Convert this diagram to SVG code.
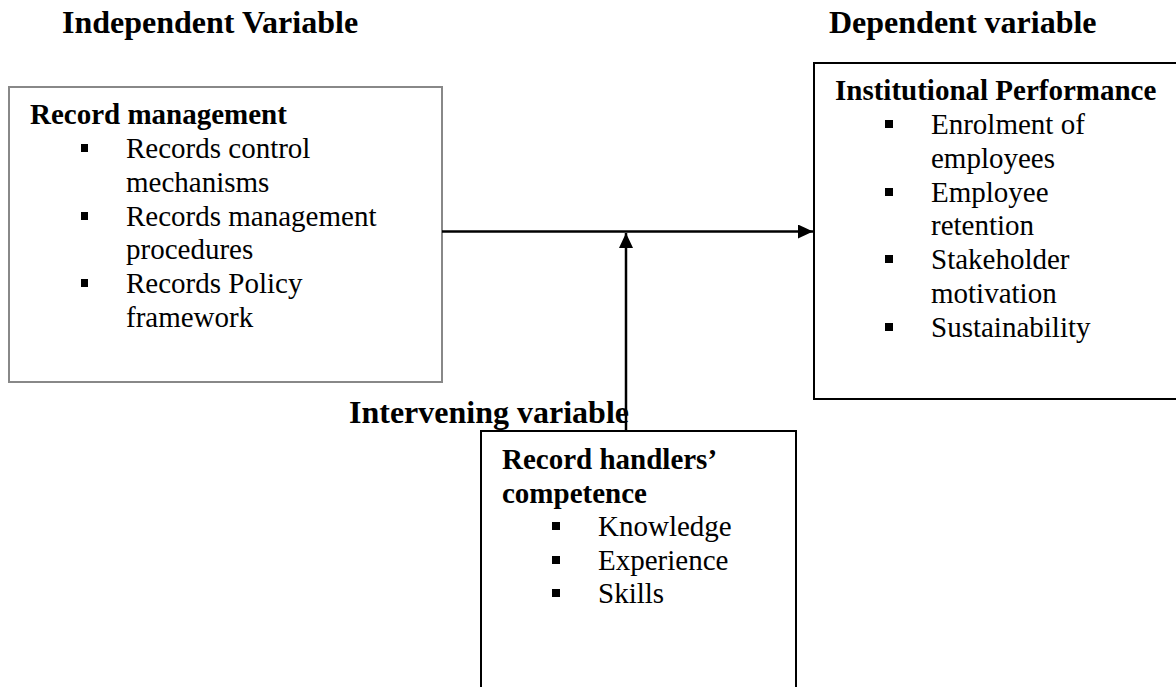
<svg xmlns="http://www.w3.org/2000/svg" width="1176" height="687" viewBox="0 0 1176 687">
<style>
text{font-family:"Liberation Serif","Times New Roman",serif;fill:#000}
.H{font-size:32px;font-weight:bold}
.h{font-size:29px;font-weight:bold}
.t{font-size:29px}
.b{fill:#000}
.box{fill:#fff;stroke:#000;stroke-width:2}
.gbox{fill:#fff;stroke:#888;stroke-width:2}
.ln{stroke:#000;stroke-width:2.5;fill:none}
</style>
<defs>
<marker id="ah" viewBox="0 0 15 14" refX="15" refY="7" markerWidth="15" markerHeight="14" markerUnits="userSpaceOnUse" orient="auto">
<path d="M0,0 L15,7 L0,14 Z" fill="#000"/>
</marker>
</defs>
<rect width="1176" height="687" fill="#fff"/>
<text class="H" x="62" y="33">Independent Variable</text>
<text class="H" x="829" y="33">Dependent variable</text>
<g id="independent">
<rect class="gbox" x="9" y="87" width="433" height="295"/>
<text class="h" x="30" y="124">Record management</text>
<rect class="b" x="81" y="144" width="7" height="8"/>
<text class="t" x="126" y="158">Records control</text>
<text class="t" x="126" y="192">mechanisms</text>
<rect class="b" x="81" y="212" width="7" height="8"/>
<text class="t" x="126" y="226">Records management</text>
<text class="t" x="126" y="259">procedures</text>
<rect class="b" x="81" y="279" width="7" height="8"/>
<text class="t" x="126" y="293">Records Policy</text>
<text class="t" x="126" y="327">framework</text>
</g>
<g id="dependent">
<rect class="box" x="814" y="63" width="380" height="336"/>
<text class="h" x="835" y="100">Institutional Performance</text>
<rect class="b" x="885" y="120" width="8" height="8"/>
<text class="t" x="931" y="134">Enrolment of</text>
<text class="t" x="931" y="168">employees</text>
<rect class="b" x="885" y="188" width="8" height="8"/>
<text class="t" x="931" y="202">Employee</text>
<text class="t" x="931" y="235">retention</text>
<rect class="b" x="885" y="255" width="8" height="8"/>
<text class="t" x="931" y="269">Stakeholder</text>
<text class="t" x="931" y="303">motivation</text>
<rect class="b" x="885" y="323" width="8" height="8"/>
<text class="t" x="931" y="337">Sustainability</text>
</g>
<g id="connectors">
<line class="ln" x1="442" y1="231.5" x2="813" y2="231.5" marker-end="url(#ah)"/>
<line class="ln" x1="626" y1="431" x2="626" y2="233" marker-end="url(#ah)"/>
</g>
<g id="intervening">
<rect class="box" x="481" y="431" width="315" height="280"/>
<text class="h" x="502" y="469">Record handlers’</text>
<text class="h" x="502" y="503">competence</text>
<rect class="b" x="552" y="522" width="8" height="8"/>
<text class="t" x="598" y="536">Knowledge</text>
<rect class="b" x="552" y="556" width="8" height="8"/>
<text class="t" x="598" y="570">Experience</text>
<rect class="b" x="552" y="589" width="8" height="8"/>
<text class="t" x="598" y="603">Skills</text>
</g>
<text class="H" x="349" y="423">Intervening variable</text>
</svg>
